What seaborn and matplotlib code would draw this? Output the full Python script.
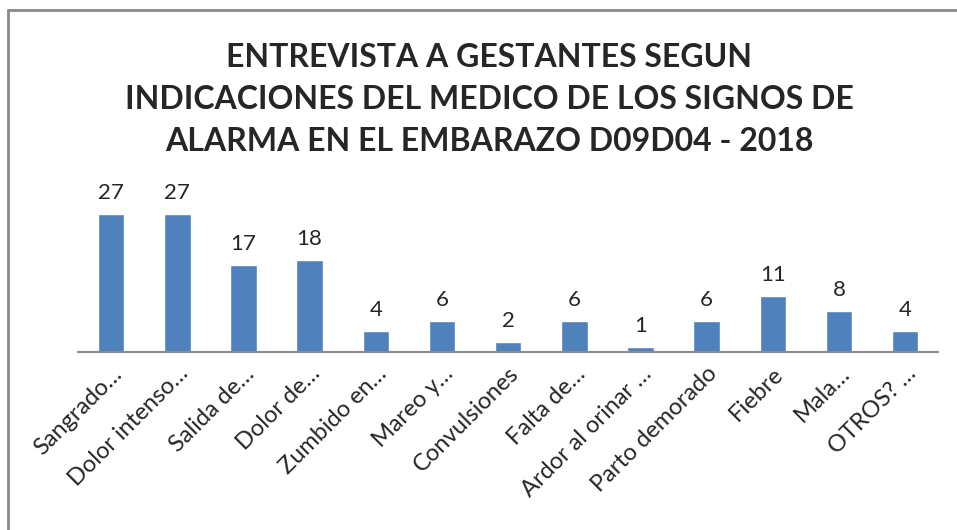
import matplotlib
matplotlib.use("Agg")
import matplotlib.pyplot as plt
from matplotlib.lines import Line2D
import seaborn as sns
import pandas as pd

# Data
categories = [
    "Sangrado…", "Dolor intenso…", "Salida de…", "Dolor de…", "Zumbido en…",
    "Mareo y…", "Convulsiones", "Falta de…", "Ardor al orinar …",
    "Parto demorado", "Fiebre", "Mala…", "OTROS? …",
]
counts = [27, 27, 17, 18, 4, 6, 2, 6, 1, 6, 11, 8, 4]
title_text = ("ENTREVISTA A GESTANTES SEGUN\n"
              "INDICACIONES DEL MEDICO DE LOS SIGNOS DE\n"
              "ALARMA EN EL EMBARAZO D09D04 - 2018")

sns.set_style("white")
plt.rcParams["font.family"] = ["Lato", "DejaVu Sans"]

df = pd.DataFrame({"signo": categories, "n": counts})

fig = plt.figure(figsize=(9.57, 5.30), dpi=100)
ax = fig.add_axes([0.0815, 0.336, 0.899, 0.289])

sns.barplot(data=df, x="signo", y="n", color="#4F81BD", saturation=1,
            width=0.4, ax=ax)
ax.set_xlim(-0.5, len(categories) - 0.5)
ax.set_ylim(0, 30)

ax.bar_label(ax.containers[0], fontsize=16, padding=8, clip_on=False)

ax.set_xlabel("")
ax.set_ylabel("")
ax.set_yticks([])
ax.tick_params(axis="x", length=0, pad=8)
plt.setp(ax.get_xticklabels(), rotation=45, ha="right",
         rotation_mode="anchor", fontsize=17)
for side in ["left", "right", "top"]:
    ax.spines[side].set_visible(False)
ax.spines["bottom"].set_color("#8c8c8c")
ax.spines["bottom"].set_linewidth(1.5)

fig.text(0.511, 0.812, title_text, ha="center", va="center", fontsize=23,
         fontweight="bold", linespacing=1.55)

# outer chart border (top and left edges visible)
fig.add_artist(Line2D([0.008, 1.0], [0.982, 0.982], color="#888888", lw=2))
fig.add_artist(Line2D([0.008, 0.008], [0.0, 0.982], color="#888888", lw=2))

fig.savefig("out.png", dpi=100)
